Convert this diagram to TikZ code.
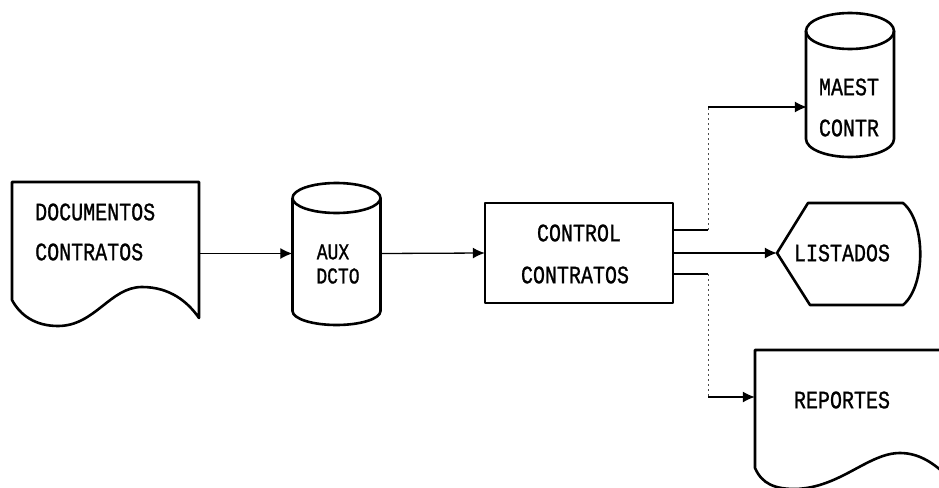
\documentclass[tikz,border=0pt]{standalone}
\usepackage{fontspec}
\usepackage{graphicx}
\newfontfamily\dotfont[FakeBold=1.2]{Liberation Mono}
\usetikzlibrary{arrows.meta,calc}
\tikzset{
  shapeline/.style={line width=2.6pt, line join=round},
  conn/.style={line width=1.3pt},
  dotconn/.style={line width=1pt, dash pattern=on 2pt off 3pt, black!70},
  arr/.style={conn, -{Latex[length=12pt,width=11pt]}},
  lbl/.style={font=\dotfont\fontsize{20}{22}\selectfont, inner sep=0pt},
  small/.style={font=\dotfont\fontsize{18}{20}\selectfont, inner sep=0pt},
  area/.style={draw=none, inner sep=0pt, minimum width=#1},
}
\newcommand{\tall}[1]{\scalebox{1}[1.25]{#1}}
\begin{document}
\begin{tikzpicture}[x=1pt,y=-1pt]
\useasboundingbox (0,0) rectangle (939,487);
\clip (0,0) rectangle (939,487);
% ---------- shapes (areas as named nodes) ----------
\node[area=187, minimum height=143] (doc) at (105.5,253.5) {};
\node[area=88, minimum height=143] (aux) at (336.5,253.5) {};
\node[area=188, minimum height=100] (ctrl) at (579,253) {};
\node[area=88, minimum height=144] (maest) at (851,107) {};
\node[area=143, minimum height=102] (list) at (848.5,253) {};
\node[area=200, minimum height=150] (rep) at (855,397) {};

% document DOCUMENTOS CONTRATOS
\draw[shapeline] (12,300) -- (12,182) -- (199,182) -- (199,318)
  .. controls (188,302) and (170,287) .. (142,287)
  .. controls (110,287) and (95,326) .. (58,326)
  .. controls (35,326) and (20,315) .. (12,300) -- cycle;
\node[lbl, anchor=west] (t1) at (35,212) {\tall{DOCUMENTOS}};
\node[lbl, anchor=west] (t2) at (35,252) {\tall{CONTRATOS}};

% cylinder AUX DCTO
\draw[shapeline] (336.5,198) ellipse [x radius=44, y radius=15];
\draw[shapeline] (292.5,198) -- (292.5,311)
  arc[start angle=180, end angle=0, x radius=44, y radius=14] -- (380.5,198);
\node[small] (t3) at (333,252) {\tall{AUX}};
\node[small] (t4) at (338,276) {\tall{DCTO}};

% process box CONTROL CONTRATOS
\draw[shapeline] (485,203) rectangle (673,303);
\node[lbl] (t5) at (579,233) {\tall{CONTROL}};
\node[lbl] (t6) at (575,275) {\tall{CONTRATOS}};

% cylinder MAEST CONTR
\draw[shapeline] (850,31) ellipse [x radius=44, y radius=18];
\draw[shapeline] (806,31) -- (806,139)
  arc[start angle=180, end angle=0, x radius=44, y radius=18] -- (894,31);
\node[lbl] (t7) at (849,87) {\tall{MAEST}};
\node[lbl] (t8) at (849,128) {\tall{CONTR}};

% display LISTADOS
\draw[shapeline] (777,253) -- (808,203) -- (903,203)
  .. controls (926,222) and (926,286) .. (903,305) -- (810,305) -- cycle;
\node[lbl] (t9) at (842,253) {\tall{LISTADOS}};

% document REPORTES
\draw[shapeline] (960,350) -- (755,350) -- (755,468)
  .. controls (762,484) and (775,489) .. (795,489)
  .. controls (840,488) and (868,453) .. (900,453)
  .. controls (918,453) and (932,462) .. (945,474);
\node[lbl] (t10) at (842,400) {\tall{REPORTES}};

% ---------- connectors ----------
\draw[arr] (doc.east) -- (aux.west);
\draw[arr] (aux.east) -- (ctrl.west);
\draw[arr] (ctrl.east) -- (list.west);

\coordinate (o1) at ($(ctrl.east)+(0,-23)$);
\coordinate (b1) at ($(o1)+(35,0)$);
\coordinate (m1) at (b1 |- maest.west);
\draw[conn] (o1) -- (b1);
\draw[dotconn] (b1) -- (m1);
\draw[arr] (m1) -- (maest.west);

\coordinate (o2) at ($(ctrl.east)+(0,21)$);
\coordinate (b2) at ($(o2)+(35,0)$);
\coordinate (m2) at (b2 |- rep.west);
\draw[conn] (o2) -- (b2);
\draw[dotconn] (b2) -- (m2);
\draw[arr] (m2) -- (rep.west);
\end{tikzpicture}
\end{document}
